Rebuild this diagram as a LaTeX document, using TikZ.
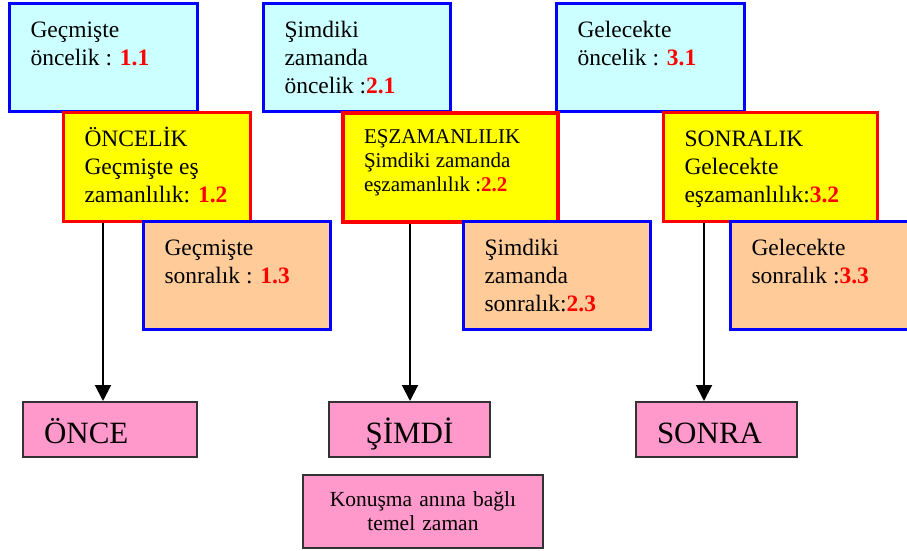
\documentclass[tikz,border=0pt]{standalone}
\usepackage{fontspec}
\setmainfont{Liberation Serif}
\usepackage{xcolor}
\usetikzlibrary{positioning}
\usetikzlibrary{calc,arrows.meta}

\definecolor{oncefill}{HTML}{CCFFFF}
\definecolor{eszfill}{HTML}{FFFF00}
\definecolor{sonrafill}{HTML}{FFCC99}
\definecolor{anfill}{HTML}{FF99CC}
\definecolor{ancizgi}{HTML}{333333}

% kirmizi kalin numara
\newcommand{\tno}[1]{\textcolor{red}{\textbf{#1}}}
% ust kenara dayali metin kutusu: genislik, yukseklik, metin
\newcommand{\kutu}[3]{\parbox[c][#2][t]{#1}{\raggedright\leftskip=21pt\vspace*{14pt}\strut#3}}

\tikzset{
	kutu/.style={draw, anchor=north west, inner sep=0pt, line width=3pt},
	oncelik/.style={kutu, draw=blue, fill=oncefill, font=\fontsize{23.5}{28}\selectfont},
	eszaman/.style={kutu, draw=red, fill=eszfill, font=\fontsize{23.5}{28}\selectfont},
	sonralik/.style={kutu, draw=blue, fill=sonrafill, font=\fontsize{23.5}{28}\selectfont},
	zaman/.style={draw=ancizgi, fill=anfill, line width=2pt, anchor=north west, inner ysep=0pt, inner xsep=21pt,
		minimum height=55pt, text height=27pt, text depth=0pt, font=\fontsize{31}{36}\selectfont},
	ok/.style={line width=2pt, -{Triangle[length=16pt,width=16pt]}}
}

\begin{document}
\begin{tikzpicture}[x=1pt, y=-1pt]
		\path[use as bounding box, clip] (0,0) rectangle (907,551);
		% oncelik kutulari
		\node[oncelik] (b11) at (8,2) {\kutu{188pt}{108pt}{Geçmişte\\öncelik : \tno{1.1}}};
		\node[oncelik] (b21) at (262,2) {\kutu{187pt}{108pt}{Şimdiki\\zamanda\\öncelik :\tno{2.1}}};
		\node[oncelik] (b31) at (555,2) {\kutu{188pt}{108pt}{Gelecekte\\öncelik : \tno{3.1}}};
		% eszamanlilik kutulari
		\node[eszaman] (b12) at (62,111) {\kutu{187pt}{109pt}{ÖNCELİK\\Geçmişte eş\\zamanlılık: \tno{1.2}}};
		\node[eszaman, line width=4pt, font=\fontsize{21}{24}\selectfont] (b22) at (341,111) {\kutu{215pt}{109pt}{EŞZAMANLILIK\\Şimdiki zamanda\\eşzamanlılık :\tno{2.2}}};
		\node[eszaman] (b32) at (662,111) {\kutu{214pt}{109pt}{SONRALIK\\Gelecekte\\eşzamanlılık:\tno{3.2}}};
		% sonralik kutulari
		\node[sonralik] (b13) at (142,220) {\kutu{187pt}{108pt}{Geçmişte\\sonralık : \tno{1.3}}};
		\node[sonralik] (b23) at (462,220) {\kutu{187pt}{108pt}{Şimdiki\\zamanda\\sonralık:\tno{2.3}}};
		\node[sonralik] (b33) at (729,220) {\kutu{187pt}{108pt}{Gelecekte\\sonralık :\tno{3.3}}};
		% temel zamanlar
		\node[zaman, text width=132pt, align=left] (once) at (22,401) {ÖNCE};
		\node[zaman, text width=119pt, align=center] (simdi) at (328,401) {ŞİMDİ};
		\node[zaman, text width=119pt, align=left] (sonra) at (635,401) {SONRA};
		\node[zaman, text width=200pt, inner xsep=20pt, align=center, minimum height=73pt, text height=, text depth=,
			font=\fontsize{21.5}{24}\selectfont] (temel) at (302,474) {Konuşma anına bağlı\\temel zaman};
		% oklar
		\draw[ok] ([xshift=-7pt]b12.south -| once.north) -- ([xshift=-7pt]once.north);
		\draw[ok] ([xshift=0.5pt]b22.south -| simdi.north) -- ([xshift=0.5pt]simdi.north);
		\draw[ok] ([xshift=-12.5pt]b32.south -| sonra.north) -- ([xshift=-12.5pt]sonra.north);
	\end{tikzpicture}
\end{document}
